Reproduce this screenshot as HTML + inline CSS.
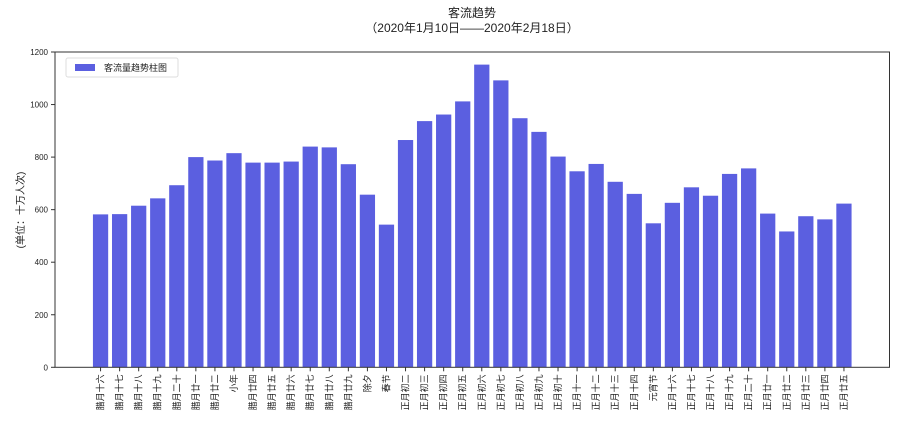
<!DOCTYPE html>
<html><head><meta charset="utf-8"><style>
body{margin:0;background:#fff;}
svg text{font-family:"Liberation Sans","Noto Sans CJK SC",sans-serif;fill:#222;}
</style></head><body>
<svg id="chart" width="900" height="424" viewBox="0 0 900 424" xmlns="http://www.w3.org/2000/svg">
<text x="472" y="17" text-anchor="middle" font-size="12">客流趋势</text>
<text x="472" y="32" text-anchor="middle" font-size="12">（2020年1月10日——2020年2月18日）</text>
<text transform="translate(24,210) rotate(-90)" text-anchor="middle" font-size="10">(单位：十万人次)</text>
<g id="bars"></g><g id="yticks"></g><g id="xticks"></g>
<rect x="55" y="52" width="834.5" height="315.3" fill="none" stroke="#333" stroke-width="1"/>
<g>
<rect x="66" y="58" width="112" height="19" fill="#fff" stroke="#ddd" rx="2"/>
<rect x="75" y="64" width="20" height="7" fill="#5b5fe0"/>
<text x="104" y="71" font-size="9">客流量趋势柱图</text>
</g>
</svg>
<script>
const categories=["腊月十六","腊月十七","腊月十八","腊月十九","腊月二十","腊月廿一","腊月廿二","小年","腊月廿四","腊月廿五","腊月廿六","腊月廿七","腊月廿八","腊月廿九","除夕","春节","正月初二","正月初三","正月初四","正月初五","正月初六","正月初七","正月初八","正月初九","正月初十","正月十一","正月十二","正月十三","正月十四","元宵节","正月十六","正月十七","正月十八","正月十九","正月二十","正月廿一","正月廿二","正月廿三","正月廿四","正月廿五"];
const values=[582,583,615,643,693,800,787,815,779,779,783,840,837,773,657,543,865,937,962,1012,1152,1092,948,896,802,746,774,706,660,548,626,685,653,736,757,585,517,575,563,623];
const yTicks=[0,200,400,600,800,1000,1200];
const NS="http://www.w3.org/2000/svg";
const x0=55,x1=889.5,yTop=52,yBot=367.3,yMax=1200;
const n=categories.length;
const pad=0.4+0.05*(n-1+0.8);
const xmin=-pad,xmax=n-1+pad;
const xs=i=>x0+(i-xmin)/(xmax-xmin)*(x1-x0);
const ys=v=>yBot-v/yMax*(yBot-yTop);
const step=(x1-x0)/(xmax-xmin);
const bw=0.8*step;
const gb=document.getElementById('bars'),gy=document.getElementById('yticks'),gx=document.getElementById('xticks');
values.forEach((v,i)=>{
 const r=document.createElementNS(NS,'rect');
 
 
 r.setAttribute('x',xs(i)-bw/2);r.setAttribute('y',ys(v));
 r.setAttribute('width',bw);r.setAttribute('height',yBot-ys(v));
 r.setAttribute('fill','#5b5fe0');gb.appendChild(r);
});
yTicks.forEach(t=>{
 const l=document.createElementNS(NS,'line');
 
 
 l.setAttribute('x1',x0-4);l.setAttribute('x2',x0);l.setAttribute('y1',ys(t));l.setAttribute('y2',ys(t));
 l.setAttribute('stroke','#333');gy.appendChild(l);
 const tx=document.createElementNS(NS,'text');
 
 
 tx.setAttribute('x',x0-7);tx.setAttribute('y',ys(t)+3);tx.setAttribute('text-anchor','end');tx.setAttribute('font-size','8');
 tx.textContent=t;gy.appendChild(tx);
});
categories.forEach((c,i)=>{
 const l=document.createElementNS(NS,'line');
 
 
 l.setAttribute('x1',xs(i));l.setAttribute('x2',xs(i));l.setAttribute('y1',yBot);l.setAttribute('y2',yBot+4);
 l.setAttribute('stroke','#333');gx.appendChild(l);
 const tx=document.createElementNS(NS,'text');
 
 
 tx.setAttribute('transform','translate('+(xs(i)+3)+','+(yBot+7)+') rotate(-90)');
 tx.setAttribute('text-anchor','end');tx.setAttribute('font-size','9');
 tx.textContent=c;gx.appendChild(tx);
});
</script>
</body></html>
